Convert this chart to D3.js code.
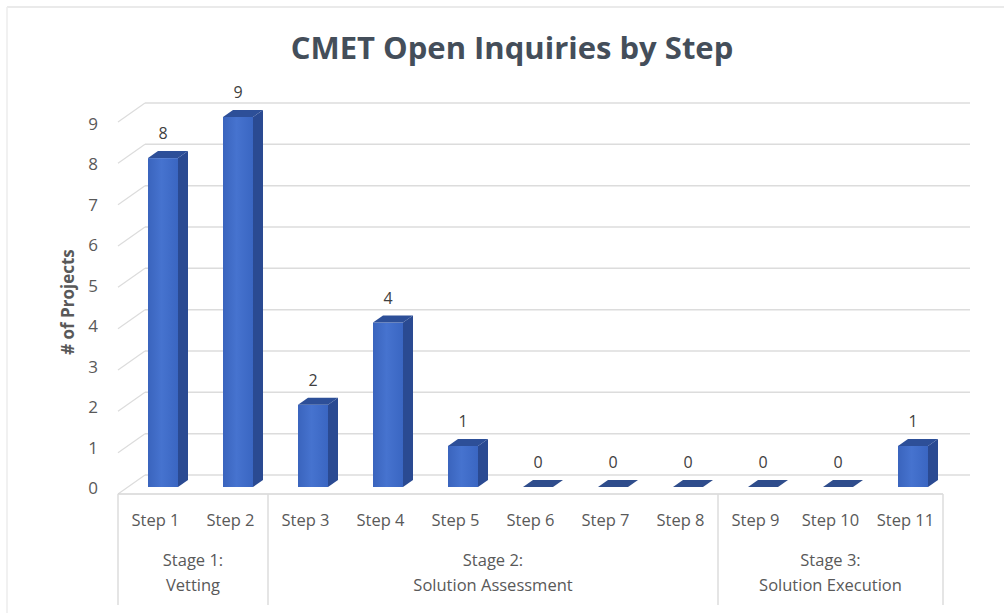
<!DOCTYPE html>
<html><head><meta charset="utf-8">
<script src="https://cdn.jsdelivr.net/npm/d3@7"></script>
<style>body{margin:0;background:#fff}svg{display:block}</style>
</head><body>
<svg id="c" width="1004" height="613"></svg>
<script>
const steps = ["Step 1","Step 2","Step 3","Step 4","Step 5","Step 6","Step 7","Step 8","Step 9","Step 10","Step 11"];
const values = [8,9,2,4,1,0,0,0,0,0,1];
const stages = [
  {line1:"Stage 1:", line2:"Vetting", first:"Step 1", last:"Step 2"},
  {line1:"Stage 2:", line2:"Solution Assessment", first:"Step 3", last:"Step 8"},
  {line1:"Stage 3:", line2:"Solution Execution", first:"Step 9", last:"Step 11"}
];
const yTicks = [0,1,2,3,4,5,6,7,8,9];
const title = "CMET Open Inquiries by Step";
const yTitle = "# of Projects";

const svg = d3.select("#c");
const font = "'Open Sans', 'Noto Sans', sans-serif";
const depthX = 27, depthY = -19;   // wall depth offset
const bdx = 10, bdy = -7;          // bar depth offset

const x = d3.scaleBand().domain(steps).range([118, 943]).padding(0);
const yBack = d3.scaleLinear().domain([0, 9]).range([475, 103]);
const yAxisS = d3.scaleLinear().domain([0, 9]).range([488, 124]);
const yBar = d3.scaleLinear().domain([0, 9]).range([487, 117]);

// border
svg.append("line").attr("x1",7).attr("x2",1004).attr("y1",7).attr("y2",7).attr("stroke","#e3e3e3").attr("stroke-width",1.5);
svg.append("line").attr("x1",7).attr("x2",7).attr("y1",7).attr("y2",613).attr("stroke","#ececec").attr("stroke-width",1.5);

// title
svg.append("text").attr("x", 512).attr("y", 59).attr("text-anchor","middle")
  .attr("font-family", font).attr("font-weight","bold").attr("font-size", 31)
  .attr("fill","#444e5a").text(title);

// gridlines on back wall + left wall diagonals
const grid = svg.append("g");
yTicks.forEach(v => {
  grid.append("line").attr("x1", 118 + depthX).attr("x2", 943 + depthX)
    .attr("y1", yBack(v)).attr("y2", yBack(v)).attr("stroke","#dcdcdc").attr("stroke-width",1.5);
  grid.append("line").attr("x1", 118).attr("y1", yBack(v) - depthY)
    .attr("x2", 118 + depthX).attr("y2", yBack(v)).attr("stroke","#dcdcdc").attr("stroke-width",1.2);
});
// floor front edge
grid.append("line").attr("x1", 118).attr("x2", 943).attr("y1", yBack(0) - depthY).attr("y2", yBack(0) - depthY)
  .attr("stroke","#d6d6d6").attr("stroke-width",1.5);

// y tick labels
svg.append("g").selectAll("text").data(yTicks).join("text")
  .attr("x", 93).attr("y", d => yAxisS(d)).attr("dy","0.35em").attr("text-anchor","middle")
  .attr("font-family", font).attr("font-size", 17).attr("fill","#595959").text(d => d);

// y title
svg.append("text").attr("transform","translate(74,302) rotate(-90)").attr("text-anchor","middle")
  .attr("font-family", font).attr("font-weight","bold").attr("font-size", 17).attr("fill","#595959").text(yTitle);

// gradient
const defs = svg.append("defs");
const g1 = defs.append("linearGradient").attr("id","front").attr("x1",0).attr("x2",1).attr("y1",0).attr("y2",0);
g1.append("stop").attr("offset","0%").attr("stop-color","#3a64bd");
g1.append("stop").attr("offset","45%").attr("stop-color","#4673cf");
g1.append("stop").attr("offset","100%").attr("stop-color","#3a66c2");

// bars
const bars = svg.append("g");
steps.forEach((s, i) => {
  const v = values[i];
  const x0 = x(s) + 30, w = 30;
  const yb = yBar(0), yt = yBar(v);
  if (v > 0) {
    bars.append("path").attr("d", `M${x0+w},${yt} L${x0+w+bdx},${yt+bdy} L${x0+w+bdx},${yb+bdy} L${x0+w},${yb} Z`).attr("fill","#2a4a92");
    bars.append("rect").attr("x", x0).attr("y", yt).attr("width", w).attr("height", yb - yt).attr("fill","url(#front)");
  }
  bars.append("path").attr("d", `M${x0},${yt} L${x0+bdx},${yt+bdy} L${x0+w+bdx},${yt+bdy} L${x0+w},${yt} Z`).attr("fill", v > 0 ? "#2d4f98" : "#2f4d8c");
  bars.append("text").attr("x", x0 + w/2).attr("y", yt + bdy - 12).attr("text-anchor","middle")
    .attr("font-family", font).attr("font-size", 16).attr("fill","#404040").text(v);
});

// category axis
const ax = svg.append("g");
ax.selectAll("text").data(steps).join("text")
  .attr("x", d => x(d) + x.bandwidth()/2).attr("y", 520).attr("dy","0.35em").attr("text-anchor","middle")
  .attr("font-family", font).attr("font-size", 16.5).attr("fill","#595959").text(d => d);
const divs = [x(stages[0].first)].concat(stages.map(st => x(st.last) + x.bandwidth()));
ax.selectAll("line").data(divs).join("line")
  .attr("x1", d => d).attr("x2", d => d).attr("y1", yBack(0) - depthY).attr("y2", 605)
  .attr("stroke","#dcdcdc").attr("stroke-width",1.5);
stages.forEach(st => {
  const cx = (x(st.first) + x(st.last) + x.bandwidth()) / 2;
  ax.append("text").attr("x", cx).attr("y", 560).attr("dy","0.35em").attr("text-anchor","middle")
    .attr("font-family", font).attr("font-size", 16.5).attr("fill","#595959").text(st.line1);
  ax.append("text").attr("x", cx).attr("y", 585).attr("dy","0.35em").attr("text-anchor","middle")
    .attr("font-family", font).attr("font-size", 16.5).attr("fill","#595959").text(st.line2);
});
</script>
</body></html>
